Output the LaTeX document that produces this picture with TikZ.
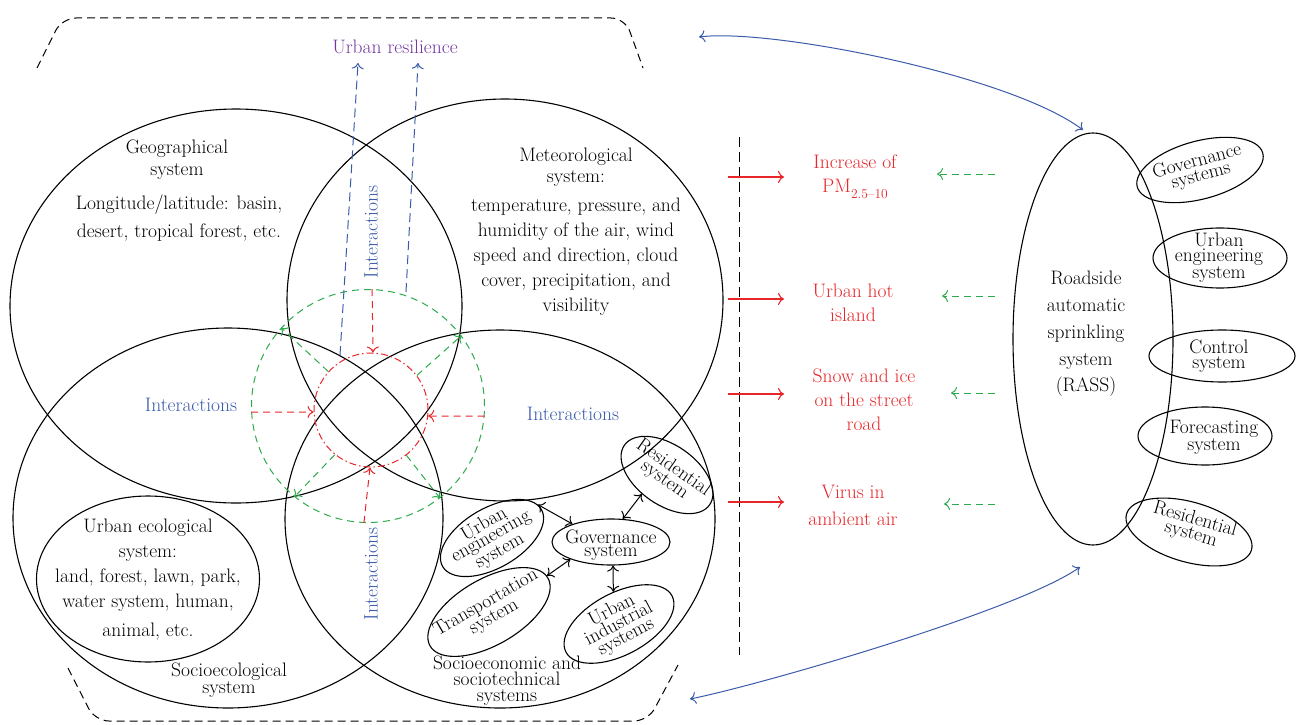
\documentclass[tikz,border=0pt]{standalone}
\usepackage{fontspec}
\usetikzlibrary{shapes.geometric,arrows.meta}
\definecolor{myred}{RGB}{232,38,42}
\definecolor{mygreen}{RGB}{45,170,75}
\definecolor{myblue}{RGB}{58,90,170}
\definecolor{mypurple}{RGB}{115,55,160}
\newcommand{\myfs}[1]{\fontsize{19.5}{#1}\selectfont}
\begin{document}
\begin{tikzpicture}[x=1pt,y=-1pt,
  >={Computer Modern Rightarrow[length=6pt,width=12pt]},
  ell/.style={ellipse, draw, line width=1.1pt, inner sep=0pt},
  txt/.style={align=center, inner sep=0pt, font=\myfs{25}},
  tight/.style={align=center, inner sep=0pt, font=\myfs{#1}},
  redtxt/.style={align=center, inner sep=0pt, font=\myfs{24}, text=myred},
  inter/.style={inner sep=0pt, font=\myfs{25}, text=myblue},
  bracket/.style={draw, dash pattern=on 8pt off 5pt, line width=1pt, rounded corners=14pt},
  vdash/.style={draw, dash pattern=on 10pt off 5pt, line width=1pt},
  redarr/.style={->, draw=myred, line width=1.1pt},
  greenarr/.style={->, draw=mygreen, dash pattern=on 7pt off 5pt, line width=1pt},
  reddash/.style={->, draw=myred, dash pattern=on 7pt off 5pt, line width=1pt},
  bluedash/.style={->, draw=myblue, dash pattern=on 9pt off 5pt, line width=1pt},
  bluecurve/.style={<->, draw=myblue, line width=1pt},
  blackarr/.style={<->, line width=1pt}
]
\useasboundingbox (0,0) rectangle (1298,725);

% brackets
\draw[bracket] (37,68) -- (62,18) -- (625,18) -- (643,68);
\draw[bracket] (68,668) -- (95,721) -- (648,721) -- (678,665);

% big ellipses
\node[ell, minimum width=452pt, minimum height=394pt] (geo) at (236,306) {};
\node[ell, minimum width=436pt, minimum height=402pt] (met) at (505,300) {};
\node[ell, minimum width=430pt, minimum height=380pt] (seco) at (228,518) {};
\node[ell, minimum width=430pt, minimum height=378pt] (secon) at (500,519) {};
\node[ell, minimum width=223pt, minimum height=166pt] (ueco) at (148,579) {};

% small ellipses inside socioeconomic system
\node[ell, minimum width=114pt, minimum height=60pt, rotate=30] (ue) at (492,538) {};
\node[ell, minimum width=118pt, minimum height=46pt] (gov) at (611,542) {};
\node[ell, minimum width=104pt, minimum height=60pt, rotate=-35] (res) at (667,475) {};
\node[ell, minimum width=136pt, minimum height=66pt, rotate=30] (tr) at (489,612) {};
\node[ell, minimum width=120pt, minimum height=62pt, rotate=28] (ind) at (619,624) {};

\draw[blackarr] (ue.6) -- (gov.155);
\draw[blackarr] (tr.2) -- (gov.203);
\draw[blackarr] (gov.-85) -- (ind.72);
\draw[blackarr] (gov.63) -- (res.252);

% central circles
\node[circle, draw=mygreen, dash pattern=on 7pt off 5pt, line width=1pt, minimum size=233pt, inner sep=0pt] (gc) at (368,406) {};
\node[circle, draw=myred, dash pattern=on 7pt off 3pt on 1.5pt off 3pt, line width=1pt, minimum size=114pt, inner sep=0pt] (rc) at (371,410) {};

\draw[reddash] (gc.88) -- (rc.88);
\draw[reddash] (gc.183) -- (rc.182);
\draw[reddash] (gc.-5) -- (rc.-6);
\draw[reddash] (gc.268) -- (rc.269);

\draw[greenarr] (rc.138) -- (gc.138);
\draw[greenarr] (rc.37) -- (gc.37);
\draw[greenarr] (rc.231) -- (gc.231);
\draw[greenarr] (rc.308) -- (gc.308);

% urban resilience
\node[inter, text=mypurple] (ures) at (395,47) {Urban resilience};
\coordinate (b1s) at (340,355);
\coordinate (b1e) at (358,63);
\coordinate (b2s) at (406,292);
\coordinate (b2e) at (418,63);
\draw[bluedash] (b1s) -- (b1e);
\draw[bluedash] (b2s) -- (b2e);

% interactions labels
\node[inter, rotate=90] (int1) at (371,232) {Interactions};
\node[inter, rotate=90] (int2) at (371,574) {Interactions};
\node[inter] (int3) at (191,405) {Interactions};
\node[inter] (int4) at (573,414) {Interactions};

% texts of big ellipses
\node[tight=22] (geot) at (177,160) {Geographical\\system};
\node[tight=28] (geod) at (179,218) {Longitude/latitude: basin,\\desert, tropical forest, etc.};
\node[tight=21] (mett) at (576,167) {Meteorological\\system:};
\node[tight=25] (metd) at (576,257) {temperature, pressure, and\\humidity of the air, wind\\speed and direction, cloud\\cover, precipitation, and\\visibility};
\node[tight=25] (uecot) at (148,580) {Urban ecological\\system:\\land, forest, lawn, park,\\water system, human,\\[4pt]animal, etc.};
\node[tight=15] (secot) at (229,680) {Socioecological\\system};
\node[tight=16] (secont) at (507,681) {Socioeconomic and\\sociotechnical\\systems};

% texts of small ellipses
\node[tight=14, rotate=30] (uet) at (ue) {Urban\\engineering\\system};
\node[tight=12] (govt) at (611,545) {Governance\\system};
\node[tight=15, rotate=-35] (rest) at (669,474) {Residential\\system};
\node[tight=16, rotate=30] (trt) at (490,610) {Transportation\\system};
\node[tight=15, rotate=28] (indt) at (619,624) {Urban\\industrial\\systems};

% dividing line
\coordinate (vtop) at (739,137);
\coordinate (vbot) at (739,655);
\draw[vdash] (vtop) -- (vbot);

% red effects
\node[redtxt] (e1) at (855,177) {Increase of\\PM\raisebox{-0.3em}{\fontsize{13.5}{14}\selectfont 2.5--10}};
\node[redtxt] (e2) at (853,303) {Urban hot\\island};
\node[redtxt] (e3) at (864,400) {Snow and ice\\on the street\\road};
\node[redtxt, font=\myfs{27}] (e4) at (853,505) {Virus in\\ambient air};

\coordinate (r1s) at (728,177); \coordinate (r1e) at (784,177);
\coordinate (r2s) at (728,299); \coordinate (r2e) at (784,299);
\coordinate (r3s) at (728,394); \coordinate (r3e) at (784,394);
\coordinate (r4s) at (728,502); \coordinate (r4e) at (784,502);
\draw[redarr] (r1s) -- (r1e);
\draw[redarr] (r2s) -- (r2e);
\draw[redarr] (r3s) -- (r3e);
\draw[redarr] (r4s) -- (r4e);

\coordinate (g1s) at (995,174); \coordinate (g1e) at (937,174);
\coordinate (g2s) at (995,296); \coordinate (g2e) at (942,296);
\coordinate (g3s) at (995,393); \coordinate (g3e) at (951,393);
\coordinate (g4s) at (995,504); \coordinate (g4e) at (944,504);
\draw[greenarr] (g1s) -- (g1e);
\draw[greenarr] (g2s) -- (g2e);
\draw[greenarr] (g3s) -- (g3e);
\draw[greenarr] (g4s) -- (g4e);

% RASS
\node[ell, minimum width=160pt, minimum height=412pt] (rass) at (1093,339) {};
\node[tight=26.7] (rasst) at (1086,334) {Roadside\\automatic\\sprinkling\\system\\(RASS)};

\node[ell, minimum width=130pt, minimum height=58pt, rotate=15] (gs) at (1200,170) {};
\node[ell, minimum width=134pt, minimum height=60pt] (ues) at (1220,258) {};
\node[ell, minimum width=146pt, minimum height=52pt] (cs) at (1222,356) {};
\node[ell, minimum width=134pt, minimum height=58pt] (fs) at (1205,436) {};
\node[ell, minimum width=130pt, minimum height=60pt, rotate=-16] (rs) at (1189,532) {};

\node[tight=15, rotate=15] (gst) at (1199,169) {Governance\\systems};
\node[tight=15] (uest) at (1219,258) {Urban\\engineering\\system};
\node[tight=15] (cst) at (1219,356) {Control\\system};
\node[tight=15] (fst) at (1214,437) {Forecasting\\system};
\node[tight=15, rotate=-16] (rst) at (1193,527) {Residential\\system};

% blue feedback arrows
\coordinate (bt1) at (699,37); \coordinate (bt2) at (1083,130);
\draw[bluecurve] (bt1) .. controls (770,28) and (1010,75) .. (bt2);
\coordinate (bb1) at (690,699); \coordinate (bb2) at (1080,567);
\draw[bluecurve] (bb1) .. controls (760,685) and (1020,610) .. (bb2);
\end{tikzpicture}
\end{document}
